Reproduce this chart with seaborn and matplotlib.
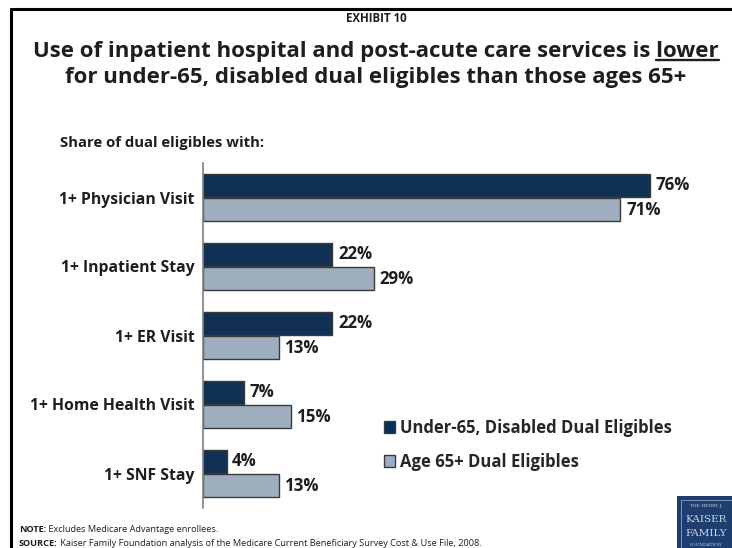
import matplotlib
matplotlib.use("Agg")
import matplotlib.pyplot as plt
import seaborn as sns
import pandas as pd
from matplotlib.patches import Rectangle
from matplotlib.lines import Line2D

# Data
services = ["1+ Physician Visit", "1+ Inpatient Stay", "1+ ER Visit",
            "1+ Home Health Visit", "1+ SNF Stay"]
under65 = [76, 22, 22, 7, 4]
age65plus = [71, 29, 13, 15, 13]
groups = ["Under-65, Disabled Dual Eligibles", "Age 65+ Dual Eligibles"]

df = pd.DataFrame({
    "service": services * 2,
    "share": under65 + age65plus,
    "group": [groups[0]] * len(services) + [groups[1]] * len(services),
})

sns.set_theme(style="white")
FONT = "Open Sans"
plt.rcParams["font.family"] = [FONT, "DejaVu Sans"]

W, H = 732, 548
fig = plt.figure(figsize=(W / 100, H / 100), dpi=100)
fig.patch.set_facecolor("white")
renderer = fig.canvas.get_renderer()

def fx(px):
    return px / W

def fy(py):
    return 1 - py / H

def text_width(s, **kw):
    t = fig.text(0, 0, s, **kw)
    w = t.get_window_extent(renderer).width
    t.remove()
    return w

TXT = "#1e1e1e"
CX = fx(376)  # horizontal centre of the slide

# Slide frame (top and left edges)
fig.add_artist(Line2D([fx(11), 1.0], [fy(9), fy(9)], color="black", lw=2.2))
fig.add_artist(Line2D([fx(11), fx(11)], [fy(9), 0.0], color="black", lw=2.2))

# Headings
fig.text(CX, fy(19), "EXHIBIT 10", ha="center", va="center",
         fontsize=8.3, fontweight="bold", color=TXT)
title_kw = dict(fontsize=16, fontweight="bold", color=TXT)
line1 = "Use of inpatient hospital and post-acute care services is lower"
t1 = fig.text(CX, fy(51), line1, ha="center", va="center", **title_kw)
fig.text(CX, fy(77), "for under-65, disabled dual eligibles than those ages 65+",
         ha="center", va="center", **title_kw)
bb = t1.get_window_extent(renderer)
w_lower = text_width("lower", **title_kw)
fig.add_artist(Line2D([(bb.x1 - w_lower) / W, bb.x1 / W], [fy(59.5), fy(59.5)],
                      color=TXT, lw=1.7))
fig.text(fx(60), fy(143), "Share of dual eligibles with:", ha="left", va="center",
         fontsize=10.7, fontweight="bold", color=TXT)

# Bar chart
ax_left, ax_right, ax_top, ax_bot = 203, 700, 163, 508
ax = fig.add_axes([fx(ax_left), fy(ax_bot), fx(ax_right - ax_left), (ax_bot - ax_top) / H])
palette = {groups[0]: "#06305F", groups[1]: "#98AEC5"}
sns.barplot(data=df, x="share", y="service", hue="group", orient="h",
            palette=palette, width=0.7, gap=0.08, edgecolor="#3a3a3a",
            linewidth=1.0, ax=ax, legend=False)
ax.set_xlim(0, (ax_right - ax_left) / 5.88)
ax.set_ylim(len(services) - 0.5, -0.5)
ax.set_xlabel("")
ax.set_ylabel("")
ax.set_xticks([])
ax.tick_params(axis="y", length=0, pad=6)
for lab in ax.get_yticklabels():
    lab.set_fontweight("bold")
    lab.set_fontsize(11.3)
    lab.set_color(TXT)
for s in ["top", "right", "bottom"]:
    ax.spines[s].set_visible(False)
ax.spines["left"].set_color("#7f7f7f")
ax.spines["left"].set_linewidth(1.2)
ax.set_facecolor("none")

for cont in ax.containers:
    ax.bar_label(cont, labels=[f"{v:.0f}%" for v in cont.datavalues], padding=4,
                 fontsize=12.2, fontweight="bold", color=TXT)

# Legend
handles = [Rectangle((0, 0), 1, 1, facecolor=palette[g], edgecolor="#3a3a3a", lw=1.0)
           for g in groups]
fig.legend(handles, groups, loc="upper left", bbox_to_anchor=(fx(369), fy(404)),
           frameon=False, handlelength=0.65, handleheight=0.7, handletextpad=0.3,
           labelspacing=0.95, prop={"weight": "bold", "size": 12})

# Footnotes: bold lead word followed by regular text
note_kw = dict(fontsize=6.6, va="center", ha="left", color=TXT)
for py, lead, rest in [(530, "NOTE:", " Excludes Medicare Advantage enrollees."),
                       (543, "SOURCE:", " Kaiser Family Foundation analysis of the Medicare Current Beneficiary Survey Cost & Use File, 2008.")]:
    fig.text(fx(19), fy(py), lead, fontweight="bold", **note_kw)
    wl = text_width(lead, fontweight="bold", **note_kw)
    fig.text(fx(19) + wl / W, fy(py), rest, **note_kw)

# Foundation mark
fig.add_artist(Rectangle((fx(677), 0), fx(55), (H - 496) / H, facecolor="#1D3E6E",
                         edgecolor="none", transform=fig.transFigure))
fig.add_artist(Rectangle((fx(681), 0), fx(51), (H - 500) / H, facecolor="none",
                         edgecolor="#8fa3c0", lw=0.6, transform=fig.transFigure))
for txt, yy, sz in [("THE HENRY J.", 506, 3.2), ("KAISER", 519, 7.5),
                    ("FAMILY", 533, 7.5), ("FOUNDATION", 545, 3.2)]:
    fig.text(fx(706), fy(yy), txt, ha="center", va="center", fontsize=sz,
             family="DejaVu Serif", color="#c9d3e3")

fig.savefig("out.png", dpi=100)
